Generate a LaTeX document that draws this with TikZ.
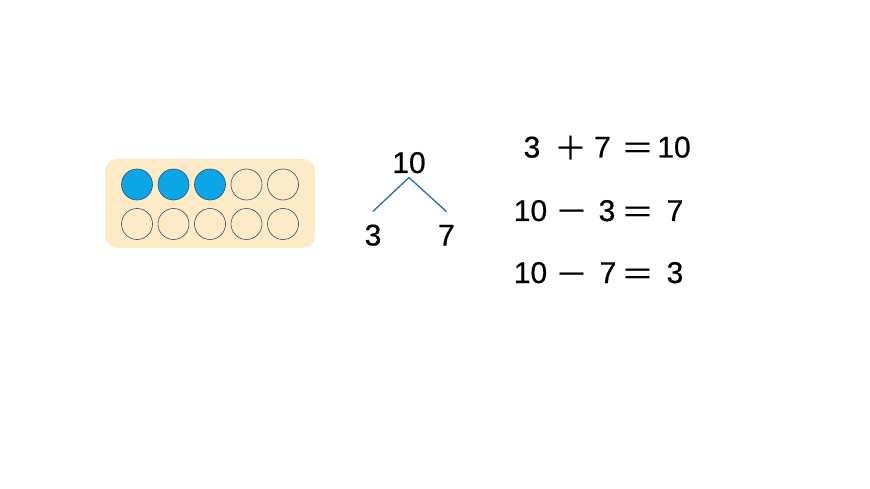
\documentclass[tikz,border=0pt]{standalone}
\usepackage{fontspec}
\setmainfont{Liberation Sans}[FakeBold=0.6]
\newfontfamily\cjk{Noto Sans CJK SC}
\definecolor{frame}{HTML}{FDEBC8}
\definecolor{bead}{HTML}{0AA6E8}
\definecolor{rim}{HTML}{3B4A66}
\definecolor{branch}{HTML}{236FA6}
\tikzset{
  num/.style={inner sep=0pt, anchor=base, font=\fontsize{30}{30}\selectfont},
  sym/.style={inner sep=0pt, anchor=base, font=\cjk\fontsize{33}{33}\selectfont},
  branchline/.style={branch, line width=1.3pt}
}

\begin{document}
\begin{tikzpicture}[x=1pt, y=-1pt]
  \useasboundingbox [fill=white] (0,0) rectangle (870,489);
  % ten frame
  \draw [fill=frame, draw=none, rounded corners=12pt] (105,159) rectangle (315,248);
  \draw [fill=bead, draw=rim, line width=0.6pt] (137,184.5) circle [radius=15.5];
  \draw [fill=bead, draw=rim, line width=0.6pt] (173.5,184.5) circle [radius=15.5];
  \draw [fill=bead, draw=rim, line width=0.6pt] (210,184.5) circle [radius=15.5];
  \draw [draw=rim, line width=0.6pt] (246.5,184.5) circle [radius=15.5];
  \draw [draw=rim, line width=0.6pt] (283,184.5) circle [radius=15.5];
  \draw [draw=rim, line width=0.6pt] (137,224) circle [radius=15.5];
  \draw [draw=rim, line width=0.6pt] (173.5,224) circle [radius=15.5];
  \draw [draw=rim, line width=0.6pt] (210,224) circle [radius=15.5];
  \draw [draw=rim, line width=0.6pt] (246.5,224) circle [radius=15.5];
  \draw [draw=rim, line width=0.6pt] (283,224) circle [radius=15.5];

  % split of ten
  \node [num] (ten) at (409,173) {10};
  \node [num] (three) at (373,245.5) {3};
  \node [num] (seven) at (446.5,245.5) {7};
  \draw [branchline] ([yshift=-4pt]ten.south) -- ([yshift=13pt]three.north);
  \draw [branchline] ([yshift=-4pt]ten.south) -- ([yshift=13pt]seven.north);

  % equations
  \node [num] (a1) at (532,157.5) {3};
  \node [sym] (p1) at (571,161) {＋};
  \node [num] (a2) at (602.5,157.5) {7};
  \node [sym] (e1) at (638,161) {＝};
  \node [num] (a3) at (674,157.5) {10};

  \node [num] (b1) at (530.5,221) {10};
  \node [sym] (m1) at (571.5,224) {－};
  \node [num] (b2) at (607,221) {3};
  \node [sym] (e2) at (637.5,224.5) {＝};
  \node [num] (b3) at (675,221) {7};

  \node [num] (c1) at (530.5,283) {10};
  \node [sym] (m2) at (571.5,286) {－};
  \node [num] (c2) at (608,283) {7};
  \node [sym] (e3) at (637.5,286.5) {＝};
  \node [num] (c3) at (675,283) {3};
\end{tikzpicture}
\end{document}
